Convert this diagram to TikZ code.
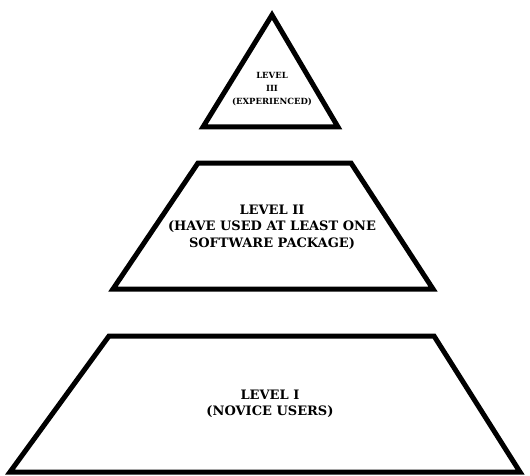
\documentclass[tikz,border=0pt]{standalone}
\usepackage{fontspec}
\setmainfont{DejaVu Serif}
\usepackage{tikz}

\begin{document}
\begin{tikzpicture}[x=1pt, y=-1pt,
    tier/.style={line width=5pt, line join=miter, miter limit=4},
    tiertext/.style={font=\bfseries\fontsize{13}{16.5}\selectfont, align=center, inner sep=0pt},
    toptext/.style={font=\bfseries\fontsize{8.5}{13}\selectfont, align=center, inner sep=0pt}
]
\useasboundingbox (0,0) rectangle (530,476);

% level III: top of the pyramid
\coordinate (apex) at (272,15);
\coordinate (tl)   at (203,127);
\coordinate (tr)   at (338,127);
\draw[tier] (apex) -- (tr) -- (tl) -- cycle;
\node[toptext] (lvl3) at (272,89) {LEVEL\\III\\(EXPERIENCED)};

% level II
\coordinate (ma) at (198,163);
\coordinate (mb) at (351,163);
\coordinate (mc) at (433,289);
\coordinate (md) at (113,289);
\draw[tier] (ma) -- (mb) -- (mc) -- (md) -- cycle;
\node[tiertext] (lvl2) at (272,227) {LEVEL II\\(HAVE USED AT LEAST ONE\\SOFTWARE PACKAGE)};

% level I: base
\coordinate (ba) at (109,336);
\coordinate (bb) at (434,336);
\coordinate (bc) at (520,472);
\coordinate (bd) at (10,472);
\draw[tier] (ba) -- (bb) -- (bc) -- (bd) -- cycle;
\node[tiertext] (lvl1) at (270,404) {LEVEL I\\(NOVICE USERS)};
\end{tikzpicture}
\end{document}
